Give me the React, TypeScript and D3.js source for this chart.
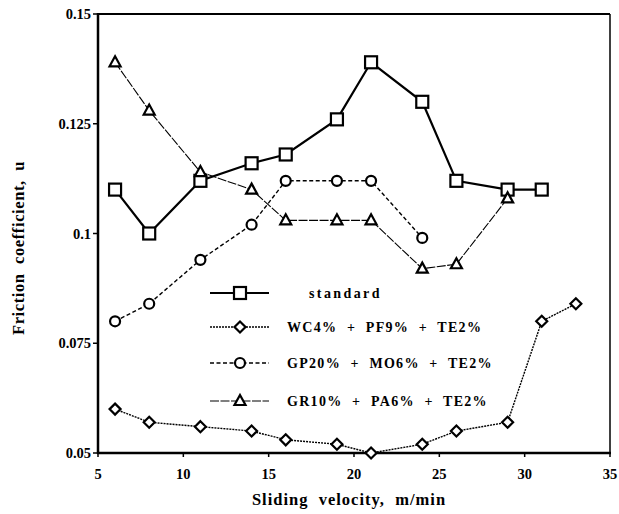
import React from "react";
import * as d3 from "d3";

// sliding velocity (m/min)
const stdX = [6, 8, 11, 14, 16, 19, 21, 24, 26, 29, 31];
const stdY = [0.110, 0.100, 0.112, 0.116, 0.118, 0.126, 0.139, 0.130, 0.112, 0.110, 0.110];

const wcX = [6, 8, 11, 14, 16, 19, 21, 24, 26, 29, 31, 33];
const wcY = [0.060, 0.057, 0.056, 0.055, 0.053, 0.052, 0.050, 0.052, 0.055, 0.057, 0.080, 0.084];

const gpX = [6, 8, 11, 14, 16, 19, 21, 24];
const gpY = [0.080, 0.084, 0.094, 0.102, 0.112, 0.112, 0.112, 0.099];

const grX = [6, 8, 11, 14, 16, 19, 21, 24, 26, 29];
const grY = [0.139, 0.128, 0.114, 0.110, 0.103, 0.103, 0.103, 0.092, 0.093, 0.108];

const xTicks = [5, 10, 15, 20, 25, 30, 35];
const yTicks = [0.05, 0.075, 0.1, 0.125, 0.15];
const yTickLabels = ["0.05", "0.075", "0.1", "0.125", "0.15"];

const seriesNames = [
  "standard",
  "WC4%  +  PF9%  +  TE2%",
  "GP20%  +  MO6%  +  TE2%",
  "GR10%  +  PA6%  +  TE2%",
];

const W = 619;
const H = 514;
const m = { left: 98, right: 9, top: 14, bottom: 61 };
const font = "'Liberation Serif', 'Times New Roman', 'DejaVu Serif', serif";

type Shape = "square" | "diamond" | "circle" | "triangle";

const Marker = ({ shape, x, y }: { shape: Shape; x: number; y: number }) => {
  const common = { fill: "white", stroke: "black", strokeWidth: 2.2 };
  if (shape === "square") return <rect x={x - 6} y={y - 6} width={12} height={12} {...common} />;
  if (shape === "circle") return <circle cx={x} cy={y} r={5} {...common} />;
  if (shape === "diamond")
    return <path d={`M${x},${y - 5.5}L${x + 5.5},${y}L${x},${y + 5.5}L${x - 5.5},${y}Z`} {...common} />;
  return <path d={`M${x},${y - 6}L${x + 5.5},${y + 4}L${x - 5.5},${y + 4}Z`} {...common} />;
};

export default function App() {
  const x = d3.scaleLinear().domain([5, 35]).range([m.left, W - m.right]);
  const y = d3.scaleLinear().domain([0.05, 0.15]).range([H - m.bottom, m.top]);
  const line = d3
    .line<[number, number]>()
    .x((d) => x(d[0]))
    .y((d) => y(d[1]));

  const series = [
    { xs: stdX, ys: stdY, shape: "square" as Shape, dash: "none", sw: 2.2 },
    { xs: wcX, ys: wcY, shape: "diamond" as Shape, dash: "2,1", sw: 1.4 },
    { xs: gpX, ys: gpY, shape: "circle" as Shape, dash: "4,2.5", sw: 1.4 },
    { xs: grX, ys: grY, shape: "triangle" as Shape, dash: "9,1.5", sw: 1.1 },
  ];

  const legendRows = [293, 327, 363, 401];

  return (
    <svg
      width={W}
      height={H}
      style={{ position: "absolute", left: 0, top: 0, background: "white", fontFamily: font }}
    >
      {/* frame */}
      <line x1={x(5)} x2={x(35)} y1={y(0.15)} y2={y(0.15)} stroke="black" strokeWidth={2} />
      <line x1={x(35)} x2={x(35)} y1={y(0.15)} y2={y(0.05)} stroke="black" strokeWidth={1.5} />
      <line x1={x(5)} x2={x(5)} y1={y(0.15) - 1} y2={y(0.05) + 1} stroke="black" strokeWidth={2.5} />
      <line x1={x(5) - 1} x2={x(35) + 1} y1={y(0.05)} y2={y(0.05)} stroke="black" strokeWidth={2.5} />

      {/* y ticks */}
      {yTicks.map((t, i) => (
        <g key={t}>
          <line x1={x(5) - 5} x2={x(5)} y1={y(t)} y2={y(t)} stroke="black" strokeWidth={1.5} />
          <text x={x(5) - 7} y={y(t) + 5} textAnchor="end" fontSize={14.5} fontWeight="bold">
            {yTickLabels[i]}
          </text>
        </g>
      ))}

      {/* x ticks */}
      {xTicks.map((t) => (
        <g key={t}>
          <line x1={x(t)} x2={x(t)} y1={y(0.05)} y2={y(0.05) + 4} stroke="black" strokeWidth={1.5} />
          <text x={x(t)} y={y(0.05) + 26} textAnchor="middle" fontSize={14.5} fontWeight="bold">
            {t}
          </text>
        </g>
      ))}

      {/* axis titles */}
      <text
        x={349}
        y={505}
        textAnchor="middle"
        fontSize={16.5}
        fontWeight="bold"
        letterSpacing={1}
        style={{ whiteSpace: "pre" }}
      >
        {"Sliding  velocity,  m/min"}
      </text>
      <text
        transform={`translate(24,248) rotate(-90)`}
        textAnchor="middle"
        fontSize={16.5}
        fontWeight="bold"
        letterSpacing={0.6}
        style={{ whiteSpace: "pre" }}
      >
        {"Friction  coefficient,  u"}
      </text>

      {/* series */}
      {series.map((s, i) => {
        const pts = s.xs.map((v, j) => [v, s.ys[j]] as [number, number]);
        return (
          <g key={i}>
            <path d={line(pts) || ""} fill="none" stroke="black" strokeWidth={s.sw} strokeDasharray={s.dash} />
            {pts.map((p, j) => (
              <Marker key={j} shape={s.shape} x={x(p[0])} y={y(p[1])} />
            ))}
          </g>
        );
      })}

      {/* legend */}
      {series.map((s, i) => (
        <g key={i}>
          <line x1={210} x2={269} y1={legendRows[i]} y2={legendRows[i]} stroke="black" strokeWidth={s.sw} strokeDasharray={s.dash} />
          <Marker shape={s.shape} x={240} y={legendRows[i]} />
          <text
            x={i === 0 ? 309 : 287}
            y={legendRows[i] + 5}
            fontSize={14}
            fontWeight="bold"
            letterSpacing={i === 0 ? 2.4 : 1.3}
            style={{ whiteSpace: "pre" }}
          >
            {seriesNames[i]}
          </text>
        </g>
      ))}
    </svg>
  );
}
